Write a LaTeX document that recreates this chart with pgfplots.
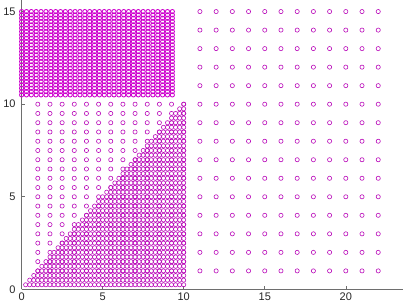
\documentclass[border=0pt]{standalone}
\usepackage{pgfplots}
\pgfplotsset{compat=1.18}
\usepackage{fontspec}
\setmainfont{Liberation Sans}
\definecolor{mag}{RGB}{185,10,185}
\definecolor{magblock}{RGB}{205,0,205}
\definecolor{axgray}{RGB}{110,110,110}
\tikzset{pts/.style={only marks, mark=o, color=mag, mark size=2.1pt, line width=0.6pt},
 blk/.style={only marks, mark=o, color=magblock, mark size=2.1pt, line width=0.85pt}}
\begin{document}
\begin{tikzpicture}
\begin{axis}[
 scale only axis, width=381pt, height=289pt,
 xmin=0, xmax=23.5, ymin=0, ymax=15.6,
 axis x line*=bottom, axis y line*=left,
 axis line style={axgray, line width=0.9pt},
 tick align=inside, major tick length=3pt,
 tick style={axgray, line width=0.6pt},
 xtick={0,5,10,15,20}, ytick={0,5,10,15},
 tick label style={font=\fontsize{11}{13}\selectfont, text=black!85},
 yticklabel style={xshift=-2.5pt},
 /pgf/number format/assume math mode=true,
 clip=false,
]
% right grid
\addplot[pts] coordinates {
(11,1)(12,1)(13,1)(14,1)(15,1)(16,1)(17,1)(18,1)(19,1)(20,1)(21,1)(22,1)
(11,2)(12,2)(13,2)(14,2)(15,2)(16,2)(17,2)(18,2)(19,2)(20,2)(21,2)(22,2)
(11,3)(12,3)(13,3)(14,3)(15,3)(16,3)(17,3)(18,3)(19,3)(20,3)(21,3)(22,3)
(11,4)(12,4)(13,4)(14,4)(15,4)(16,4)(17,4)(18,4)(19,4)(20,4)(21,4)(22,4)
(11,5)(12,5)(13,5)(14,5)(15,5)(16,5)(17,5)(18,5)(19,5)(20,5)(21,5)(22,5)
(11,6)(12,6)(13,6)(14,6)(15,6)(16,6)(17,6)(18,6)(19,6)(20,6)(21,6)(22,6)
(11,7)(12,7)(13,7)(14,7)(15,7)(16,7)(17,7)(18,7)(19,7)(20,7)(21,7)(22,7)
(11,8)(12,8)(13,8)(14,8)(15,8)(16,8)(17,8)(18,8)(19,8)(20,8)(21,8)(22,8)
(11,9)(12,9)(13,9)(14,9)(15,9)(16,9)(17,9)(18,9)(19,9)(20,9)(21,9)(22,9)
(11,10)(12,10)(13,10)(14,10)(15,10)(16,10)(17,10)(18,10)(19,10)(20,10)(21,10)(22,10)
(11,11)(12,11)(13,11)(14,11)(15,11)(16,11)(17,11)(18,11)(19,11)(20,11)(21,11)(22,11)
(11,12)(12,12)(13,12)(14,12)(15,12)(16,12)(17,12)(18,12)(19,12)(20,12)(21,12)(22,12)
(11,13)(12,13)(13,13)(14,13)(15,13)(16,13)(17,13)(18,13)(19,13)(20,13)(21,13)(22,13)
(11,14)(12,14)(13,14)(14,14)(15,14)(16,14)(17,14)(18,14)(19,14)(20,14)(21,14)(22,14)
(11,15)(12,15)(13,15)(14,15)(15,15)(16,15)(17,15)(18,15)(19,15)(20,15)(21,15)(22,15)
};
% sparse left grid
\addplot[pts] coordinates {
(1,1)(1.75,1)(2.5,1)(3.25,1)(4,1)(4.75,1)(5.5,1)(6.25,1)(7,1)(7.75,1)(8.5,1)(9.25,1)(10,1)
(1,1.5)(1.75,1.5)(2.5,1.5)(3.25,1.5)(4,1.5)(4.75,1.5)(5.5,1.5)(6.25,1.5)(7,1.5)(7.75,1.5)(8.5,1.5)(9.25,1.5)(10,1.5)
(1,2)(1.75,2)(2.5,2)(3.25,2)(4,2)(4.75,2)(5.5,2)(6.25,2)(7,2)(7.75,2)(8.5,2)(9.25,2)(10,2)
(1,2.5)(1.75,2.5)(2.5,2.5)(3.25,2.5)(4,2.5)(4.75,2.5)(5.5,2.5)(6.25,2.5)(7,2.5)(7.75,2.5)(8.5,2.5)(9.25,2.5)(10,2.5)
(1,3)(1.75,3)(2.5,3)(3.25,3)(4,3)(4.75,3)(5.5,3)(6.25,3)(7,3)(7.75,3)(8.5,3)(9.25,3)(10,3)
(1,3.5)(1.75,3.5)(2.5,3.5)(3.25,3.5)(4,3.5)(4.75,3.5)(5.5,3.5)(6.25,3.5)(7,3.5)(7.75,3.5)(8.5,3.5)(9.25,3.5)(10,3.5)
(1,4)(1.75,4)(2.5,4)(3.25,4)(4,4)(4.75,4)(5.5,4)(6.25,4)(7,4)(7.75,4)(8.5,4)(9.25,4)(10,4)
(1,4.5)(1.75,4.5)(2.5,4.5)(3.25,4.5)(4,4.5)(4.75,4.5)(5.5,4.5)(6.25,4.5)(7,4.5)(7.75,4.5)(8.5,4.5)(9.25,4.5)(10,4.5)
(1,5)(1.75,5)(2.5,5)(3.25,5)(4,5)(4.75,5)(5.5,5)(6.25,5)(7,5)(7.75,5)(8.5,5)(9.25,5)(10,5)
(1,5.5)(1.75,5.5)(2.5,5.5)(3.25,5.5)(4,5.5)(4.75,5.5)(5.5,5.5)(6.25,5.5)(7,5.5)(7.75,5.5)(8.5,5.5)(9.25,5.5)(10,5.5)
(1,6)(1.75,6)(2.5,6)(3.25,6)(4,6)(4.75,6)(5.5,6)(6.25,6)(7,6)(7.75,6)(8.5,6)(9.25,6)(10,6)
(1,6.5)(1.75,6.5)(2.5,6.5)(3.25,6.5)(4,6.5)(4.75,6.5)(5.5,6.5)(6.25,6.5)(7,6.5)(7.75,6.5)(8.5,6.5)(9.25,6.5)(10,6.5)
(1,7)(1.75,7)(2.5,7)(3.25,7)(4,7)(4.75,7)(5.5,7)(6.25,7)(7,7)(7.75,7)(8.5,7)(9.25,7)(10,7)
(1,7.5)(1.75,7.5)(2.5,7.5)(3.25,7.5)(4,7.5)(4.75,7.5)(5.5,7.5)(6.25,7.5)(7,7.5)(7.75,7.5)(8.5,7.5)(9.25,7.5)(10,7.5)
(1,8)(1.75,8)(2.5,8)(3.25,8)(4,8)(4.75,8)(5.5,8)(6.25,8)(7,8)(7.75,8)(8.5,8)(9.25,8)(10,8)
(1,8.5)(1.75,8.5)(2.5,8.5)(3.25,8.5)(4,8.5)(4.75,8.5)(5.5,8.5)(6.25,8.5)(7,8.5)(7.75,8.5)(8.5,8.5)(9.25,8.5)(10,8.5)
(1,9)(1.75,9)(2.5,9)(3.25,9)(4,9)(4.75,9)(5.5,9)(6.25,9)(7,9)(7.75,9)(8.5,9)(9.25,9)(10,9)
(1,9.5)(1.75,9.5)(2.5,9.5)(3.25,9.5)(4,9.5)(4.75,9.5)(5.5,9.5)(6.25,9.5)(7,9.5)(7.75,9.5)(8.5,9.5)(9.25,9.5)(10,9.5)
(1,10)(1.75,10)(2.5,10)(3.25,10)(4,10)(4.75,10)(5.5,10)(6.25,10)(7,10)(7.75,10)(8.5,10)(9.25,10)(10,10)
};
% dense triangle
\addplot[pts] coordinates {
(0.25,0.25)(0.5,0.25)(0.75,0.25)(1,0.25)(1.25,0.25)(1.5,0.25)(1.75,0.25)(2,0.25)(2.25,0.25)(2.5,0.25)(2.75,0.25)(3,0.25)(3.25,0.25)(3.5,0.25)(3.75,0.25)(4,0.25)(4.25,0.25)(4.5,0.25)(4.75,0.25)(5,0.25)(5.25,0.25)(5.5,0.25)(5.75,0.25)(6,0.25)(6.25,0.25)(6.5,0.25)(6.75,0.25)(7,0.25)(7.25,0.25)(7.5,0.25)(7.75,0.25)(8,0.25)(8.25,0.25)(8.5,0.25)(8.75,0.25)(9,0.25)(9.25,0.25)(9.5,0.25)(9.75,0.25)(10,0.25)
(0.5,0.5)(0.75,0.5)(1,0.5)(1.25,0.5)(1.5,0.5)(1.75,0.5)(2,0.5)(2.25,0.5)(2.5,0.5)(2.75,0.5)(3,0.5)(3.25,0.5)(3.5,0.5)(3.75,0.5)(4,0.5)(4.25,0.5)(4.5,0.5)(4.75,0.5)(5,0.5)(5.25,0.5)(5.5,0.5)(5.75,0.5)(6,0.5)(6.25,0.5)(6.5,0.5)(6.75,0.5)(7,0.5)(7.25,0.5)(7.5,0.5)(7.75,0.5)(8,0.5)(8.25,0.5)(8.5,0.5)(8.75,0.5)(9,0.5)(9.25,0.5)(9.5,0.5)(9.75,0.5)(10,0.5)
(0.75,0.75)(1,0.75)(1.25,0.75)(1.5,0.75)(1.75,0.75)(2,0.75)(2.25,0.75)(2.5,0.75)(2.75,0.75)(3,0.75)(3.25,0.75)(3.5,0.75)(3.75,0.75)(4,0.75)(4.25,0.75)(4.5,0.75)(4.75,0.75)(5,0.75)(5.25,0.75)(5.5,0.75)(5.75,0.75)(6,0.75)(6.25,0.75)(6.5,0.75)(6.75,0.75)(7,0.75)(7.25,0.75)(7.5,0.75)(7.75,0.75)(8,0.75)(8.25,0.75)(8.5,0.75)(8.75,0.75)(9,0.75)(9.25,0.75)(9.5,0.75)(9.75,0.75)(10,0.75)
(1,1)(1.25,1)(1.5,1)(1.75,1)(2,1)(2.25,1)(2.5,1)(2.75,1)(3,1)(3.25,1)(3.5,1)(3.75,1)(4,1)(4.25,1)(4.5,1)(4.75,1)(5,1)(5.25,1)(5.5,1)(5.75,1)(6,1)(6.25,1)(6.5,1)(6.75,1)(7,1)(7.25,1)(7.5,1)(7.75,1)(8,1)(8.25,1)(8.5,1)(8.75,1)(9,1)(9.25,1)(9.5,1)(9.75,1)(10,1)
(1.25,1.25)(1.5,1.25)(1.75,1.25)(2,1.25)(2.25,1.25)(2.5,1.25)(2.75,1.25)(3,1.25)(3.25,1.25)(3.5,1.25)(3.75,1.25)(4,1.25)(4.25,1.25)(4.5,1.25)(4.75,1.25)(5,1.25)(5.25,1.25)(5.5,1.25)(5.75,1.25)(6,1.25)(6.25,1.25)(6.5,1.25)(6.75,1.25)(7,1.25)(7.25,1.25)(7.5,1.25)(7.75,1.25)(8,1.25)(8.25,1.25)(8.5,1.25)(8.75,1.25)(9,1.25)(9.25,1.25)(9.5,1.25)(9.75,1.25)(10,1.25)
(1.5,1.5)(1.75,1.5)(2,1.5)(2.25,1.5)(2.5,1.5)(2.75,1.5)(3,1.5)(3.25,1.5)(3.5,1.5)(3.75,1.5)(4,1.5)(4.25,1.5)(4.5,1.5)(4.75,1.5)(5,1.5)(5.25,1.5)(5.5,1.5)(5.75,1.5)(6,1.5)(6.25,1.5)(6.5,1.5)(6.75,1.5)(7,1.5)(7.25,1.5)(7.5,1.5)(7.75,1.5)(8,1.5)(8.25,1.5)(8.5,1.5)(8.75,1.5)(9,1.5)(9.25,1.5)(9.5,1.5)(9.75,1.5)(10,1.5)
(1.75,1.75)(2,1.75)(2.25,1.75)(2.5,1.75)(2.75,1.75)(3,1.75)(3.25,1.75)(3.5,1.75)(3.75,1.75)(4,1.75)(4.25,1.75)(4.5,1.75)(4.75,1.75)(5,1.75)(5.25,1.75)(5.5,1.75)(5.75,1.75)(6,1.75)(6.25,1.75)(6.5,1.75)(6.75,1.75)(7,1.75)(7.25,1.75)(7.5,1.75)(7.75,1.75)(8,1.75)(8.25,1.75)(8.5,1.75)(8.75,1.75)(9,1.75)(9.25,1.75)(9.5,1.75)(9.75,1.75)(10,1.75)
(2,2)(2.25,2)(2.5,2)(2.75,2)(3,2)(3.25,2)(3.5,2)(3.75,2)(4,2)(4.25,2)(4.5,2)(4.75,2)(5,2)(5.25,2)(5.5,2)(5.75,2)(6,2)(6.25,2)(6.5,2)(6.75,2)(7,2)(7.25,2)(7.5,2)(7.75,2)(8,2)(8.25,2)(8.5,2)(8.75,2)(9,2)(9.25,2)(9.5,2)(9.75,2)(10,2)
(2.25,2.25)(2.5,2.25)(2.75,2.25)(3,2.25)(3.25,2.25)(3.5,2.25)(3.75,2.25)(4,2.25)(4.25,2.25)(4.5,2.25)(4.75,2.25)(5,2.25)(5.25,2.25)(5.5,2.25)(5.75,2.25)(6,2.25)(6.25,2.25)(6.5,2.25)(6.75,2.25)(7,2.25)(7.25,2.25)(7.5,2.25)(7.75,2.25)(8,2.25)(8.25,2.25)(8.5,2.25)(8.75,2.25)(9,2.25)(9.25,2.25)(9.5,2.25)(9.75,2.25)(10,2.25)
(2.5,2.5)(2.75,2.5)(3,2.5)(3.25,2.5)(3.5,2.5)(3.75,2.5)(4,2.5)(4.25,2.5)(4.5,2.5)(4.75,2.5)(5,2.5)(5.25,2.5)(5.5,2.5)(5.75,2.5)(6,2.5)(6.25,2.5)(6.5,2.5)(6.75,2.5)(7,2.5)(7.25,2.5)(7.5,2.5)(7.75,2.5)(8,2.5)(8.25,2.5)(8.5,2.5)(8.75,2.5)(9,2.5)(9.25,2.5)(9.5,2.5)(9.75,2.5)(10,2.5)
(2.75,2.75)(3,2.75)(3.25,2.75)(3.5,2.75)(3.75,2.75)(4,2.75)(4.25,2.75)(4.5,2.75)(4.75,2.75)(5,2.75)(5.25,2.75)(5.5,2.75)(5.75,2.75)(6,2.75)(6.25,2.75)(6.5,2.75)(6.75,2.75)(7,2.75)(7.25,2.75)(7.5,2.75)(7.75,2.75)(8,2.75)(8.25,2.75)(8.5,2.75)(8.75,2.75)(9,2.75)(9.25,2.75)(9.5,2.75)(9.75,2.75)(10,2.75)
(3,3)(3.25,3)(3.5,3)(3.75,3)(4,3)(4.25,3)(4.5,3)(4.75,3)(5,3)(5.25,3)(5.5,3)(5.75,3)(6,3)(6.25,3)(6.5,3)(6.75,3)(7,3)(7.25,3)(7.5,3)(7.75,3)(8,3)(8.25,3)(8.5,3)(8.75,3)(9,3)(9.25,3)(9.5,3)(9.75,3)(10,3)
(3.25,3.25)(3.5,3.25)(3.75,3.25)(4,3.25)(4.25,3.25)(4.5,3.25)(4.75,3.25)(5,3.25)(5.25,3.25)(5.5,3.25)(5.75,3.25)(6,3.25)(6.25,3.25)(6.5,3.25)(6.75,3.25)(7,3.25)(7.25,3.25)(7.5,3.25)(7.75,3.25)(8,3.25)(8.25,3.25)(8.5,3.25)(8.75,3.25)(9,3.25)(9.25,3.25)(9.5,3.25)(9.75,3.25)(10,3.25)
(3.5,3.5)(3.75,3.5)(4,3.5)(4.25,3.5)(4.5,3.5)(4.75,3.5)(5,3.5)(5.25,3.5)(5.5,3.5)(5.75,3.5)(6,3.5)(6.25,3.5)(6.5,3.5)(6.75,3.5)(7,3.5)(7.25,3.5)(7.5,3.5)(7.75,3.5)(8,3.5)(8.25,3.5)(8.5,3.5)(8.75,3.5)(9,3.5)(9.25,3.5)(9.5,3.5)(9.75,3.5)(10,3.5)
(3.75,3.75)(4,3.75)(4.25,3.75)(4.5,3.75)(4.75,3.75)(5,3.75)(5.25,3.75)(5.5,3.75)(5.75,3.75)(6,3.75)(6.25,3.75)(6.5,3.75)(6.75,3.75)(7,3.75)(7.25,3.75)(7.5,3.75)(7.75,3.75)(8,3.75)(8.25,3.75)(8.5,3.75)(8.75,3.75)(9,3.75)(9.25,3.75)(9.5,3.75)(9.75,3.75)(10,3.75)
(4,4)(4.25,4)(4.5,4)(4.75,4)(5,4)(5.25,4)(5.5,4)(5.75,4)(6,4)(6.25,4)(6.5,4)(6.75,4)(7,4)(7.25,4)(7.5,4)(7.75,4)(8,4)(8.25,4)(8.5,4)(8.75,4)(9,4)(9.25,4)(9.5,4)(9.75,4)(10,4)
(4.25,4.25)(4.5,4.25)(4.75,4.25)(5,4.25)(5.25,4.25)(5.5,4.25)(5.75,4.25)(6,4.25)(6.25,4.25)(6.5,4.25)(6.75,4.25)(7,4.25)(7.25,4.25)(7.5,4.25)(7.75,4.25)(8,4.25)(8.25,4.25)(8.5,4.25)(8.75,4.25)(9,4.25)(9.25,4.25)(9.5,4.25)(9.75,4.25)(10,4.25)
(4.5,4.5)(4.75,4.5)(5,4.5)(5.25,4.5)(5.5,4.5)(5.75,4.5)(6,4.5)(6.25,4.5)(6.5,4.5)(6.75,4.5)(7,4.5)(7.25,4.5)(7.5,4.5)(7.75,4.5)(8,4.5)(8.25,4.5)(8.5,4.5)(8.75,4.5)(9,4.5)(9.25,4.5)(9.5,4.5)(9.75,4.5)(10,4.5)
(4.75,4.75)(5,4.75)(5.25,4.75)(5.5,4.75)(5.75,4.75)(6,4.75)(6.25,4.75)(6.5,4.75)(6.75,4.75)(7,4.75)(7.25,4.75)(7.5,4.75)(7.75,4.75)(8,4.75)(8.25,4.75)(8.5,4.75)(8.75,4.75)(9,4.75)(9.25,4.75)(9.5,4.75)(9.75,4.75)(10,4.75)
(5,5)(5.25,5)(5.5,5)(5.75,5)(6,5)(6.25,5)(6.5,5)(6.75,5)(7,5)(7.25,5)(7.5,5)(7.75,5)(8,5)(8.25,5)(8.5,5)(8.75,5)(9,5)(9.25,5)(9.5,5)(9.75,5)(10,5)
(5.25,5.25)(5.5,5.25)(5.75,5.25)(6,5.25)(6.25,5.25)(6.5,5.25)(6.75,5.25)(7,5.25)(7.25,5.25)(7.5,5.25)(7.75,5.25)(8,5.25)(8.25,5.25)(8.5,5.25)(8.75,5.25)(9,5.25)(9.25,5.25)(9.5,5.25)(9.75,5.25)(10,5.25)
(5.5,5.5)(5.75,5.5)(6,5.5)(6.25,5.5)(6.5,5.5)(6.75,5.5)(7,5.5)(7.25,5.5)(7.5,5.5)(7.75,5.5)(8,5.5)(8.25,5.5)(8.5,5.5)(8.75,5.5)(9,5.5)(9.25,5.5)(9.5,5.5)(9.75,5.5)(10,5.5)
(5.75,5.75)(6,5.75)(6.25,5.75)(6.5,5.75)(6.75,5.75)(7,5.75)(7.25,5.75)(7.5,5.75)(7.75,5.75)(8,5.75)(8.25,5.75)(8.5,5.75)(8.75,5.75)(9,5.75)(9.25,5.75)(9.5,5.75)(9.75,5.75)(10,5.75)
(6,6)(6.25,6)(6.5,6)(6.75,6)(7,6)(7.25,6)(7.5,6)(7.75,6)(8,6)(8.25,6)(8.5,6)(8.75,6)(9,6)(9.25,6)(9.5,6)(9.75,6)(10,6)
(6.25,6.25)(6.5,6.25)(6.75,6.25)(7,6.25)(7.25,6.25)(7.5,6.25)(7.75,6.25)(8,6.25)(8.25,6.25)(8.5,6.25)(8.75,6.25)(9,6.25)(9.25,6.25)(9.5,6.25)(9.75,6.25)(10,6.25)
(6.5,6.5)(6.75,6.5)(7,6.5)(7.25,6.5)(7.5,6.5)(7.75,6.5)(8,6.5)(8.25,6.5)(8.5,6.5)(8.75,6.5)(9,6.5)(9.25,6.5)(9.5,6.5)(9.75,6.5)(10,6.5)
(6.75,6.75)(7,6.75)(7.25,6.75)(7.5,6.75)(7.75,6.75)(8,6.75)(8.25,6.75)(8.5,6.75)(8.75,6.75)(9,6.75)(9.25,6.75)(9.5,6.75)(9.75,6.75)(10,6.75)
(7,7)(7.25,7)(7.5,7)(7.75,7)(8,7)(8.25,7)(8.5,7)(8.75,7)(9,7)(9.25,7)(9.5,7)(9.75,7)(10,7)
(7.25,7.25)(7.5,7.25)(7.75,7.25)(8,7.25)(8.25,7.25)(8.5,7.25)(8.75,7.25)(9,7.25)(9.25,7.25)(9.5,7.25)(9.75,7.25)(10,7.25)
(7.5,7.5)(7.75,7.5)(8,7.5)(8.25,7.5)(8.5,7.5)(8.75,7.5)(9,7.5)(9.25,7.5)(9.5,7.5)(9.75,7.5)(10,7.5)
(7.75,7.75)(8,7.75)(8.25,7.75)(8.5,7.75)(8.75,7.75)(9,7.75)(9.25,7.75)(9.5,7.75)(9.75,7.75)(10,7.75)
(8,8)(8.25,8)(8.5,8)(8.75,8)(9,8)(9.25,8)(9.5,8)(9.75,8)(10,8)
(8.25,8.25)(8.5,8.25)(8.75,8.25)(9,8.25)(9.25,8.25)(9.5,8.25)(9.75,8.25)(10,8.25)
(8.5,8.5)(8.75,8.5)(9,8.5)(9.25,8.5)(9.5,8.5)(9.75,8.5)(10,8.5)
(8.75,8.75)(9,8.75)(9.25,8.75)(9.5,8.75)(9.75,8.75)(10,8.75)
(9,9)(9.25,9)(9.5,9)(9.75,9)(10,9)
(9.25,9.25)(9.5,9.25)(9.75,9.25)(10,9.25)
(9.5,9.5)(9.75,9.5)(10,9.5)
(9.75,9.75)(10,9.75)
(10,10)
};
% dense top block
\addplot[blk] coordinates {
(0,10.5)(0.3,10.5)(0.6,10.5)(0.9,10.5)(1.2,10.5)(1.5,10.5)(1.8,10.5)(2.1,10.5)(2.4,10.5)(2.7,10.5)(3,10.5)(3.3,10.5)(3.6,10.5)(3.9,10.5)(4.2,10.5)(4.5,10.5)(4.8,10.5)(5.1,10.5)(5.4,10.5)(5.7,10.5)(6,10.5)(6.3,10.5)(6.6,10.5)(6.9,10.5)(7.2,10.5)(7.5,10.5)(7.8,10.5)(8.1,10.5)(8.4,10.5)(8.7,10.5)(9,10.5)(9.3,10.5)
(0,10.68)(0.3,10.68)(0.6,10.68)(0.9,10.68)(1.2,10.68)(1.5,10.68)(1.8,10.68)(2.1,10.68)(2.4,10.68)(2.7,10.68)(3,10.68)(3.3,10.68)(3.6,10.68)(3.9,10.68)(4.2,10.68)(4.5,10.68)(4.8,10.68)(5.1,10.68)(5.4,10.68)(5.7,10.68)(6,10.68)(6.3,10.68)(6.6,10.68)(6.9,10.68)(7.2,10.68)(7.5,10.68)(7.8,10.68)(8.1,10.68)(8.4,10.68)(8.7,10.68)(9,10.68)(9.3,10.68)
(0,10.86)(0.3,10.86)(0.6,10.86)(0.9,10.86)(1.2,10.86)(1.5,10.86)(1.8,10.86)(2.1,10.86)(2.4,10.86)(2.7,10.86)(3,10.86)(3.3,10.86)(3.6,10.86)(3.9,10.86)(4.2,10.86)(4.5,10.86)(4.8,10.86)(5.1,10.86)(5.4,10.86)(5.7,10.86)(6,10.86)(6.3,10.86)(6.6,10.86)(6.9,10.86)(7.2,10.86)(7.5,10.86)(7.8,10.86)(8.1,10.86)(8.4,10.86)(8.7,10.86)(9,10.86)(9.3,10.86)
(0,11.04)(0.3,11.04)(0.6,11.04)(0.9,11.04)(1.2,11.04)(1.5,11.04)(1.8,11.04)(2.1,11.04)(2.4,11.04)(2.7,11.04)(3,11.04)(3.3,11.04)(3.6,11.04)(3.9,11.04)(4.2,11.04)(4.5,11.04)(4.8,11.04)(5.1,11.04)(5.4,11.04)(5.7,11.04)(6,11.04)(6.3,11.04)(6.6,11.04)(6.9,11.04)(7.2,11.04)(7.5,11.04)(7.8,11.04)(8.1,11.04)(8.4,11.04)(8.7,11.04)(9,11.04)(9.3,11.04)
(0,11.22)(0.3,11.22)(0.6,11.22)(0.9,11.22)(1.2,11.22)(1.5,11.22)(1.8,11.22)(2.1,11.22)(2.4,11.22)(2.7,11.22)(3,11.22)(3.3,11.22)(3.6,11.22)(3.9,11.22)(4.2,11.22)(4.5,11.22)(4.8,11.22)(5.1,11.22)(5.4,11.22)(5.7,11.22)(6,11.22)(6.3,11.22)(6.6,11.22)(6.9,11.22)(7.2,11.22)(7.5,11.22)(7.8,11.22)(8.1,11.22)(8.4,11.22)(8.7,11.22)(9,11.22)(9.3,11.22)
(0,11.4)(0.3,11.4)(0.6,11.4)(0.9,11.4)(1.2,11.4)(1.5,11.4)(1.8,11.4)(2.1,11.4)(2.4,11.4)(2.7,11.4)(3,11.4)(3.3,11.4)(3.6,11.4)(3.9,11.4)(4.2,11.4)(4.5,11.4)(4.8,11.4)(5.1,11.4)(5.4,11.4)(5.7,11.4)(6,11.4)(6.3,11.4)(6.6,11.4)(6.9,11.4)(7.2,11.4)(7.5,11.4)(7.8,11.4)(8.1,11.4)(8.4,11.4)(8.7,11.4)(9,11.4)(9.3,11.4)
(0,11.58)(0.3,11.58)(0.6,11.58)(0.9,11.58)(1.2,11.58)(1.5,11.58)(1.8,11.58)(2.1,11.58)(2.4,11.58)(2.7,11.58)(3,11.58)(3.3,11.58)(3.6,11.58)(3.9,11.58)(4.2,11.58)(4.5,11.58)(4.8,11.58)(5.1,11.58)(5.4,11.58)(5.7,11.58)(6,11.58)(6.3,11.58)(6.6,11.58)(6.9,11.58)(7.2,11.58)(7.5,11.58)(7.8,11.58)(8.1,11.58)(8.4,11.58)(8.7,11.58)(9,11.58)(9.3,11.58)
(0,11.76)(0.3,11.76)(0.6,11.76)(0.9,11.76)(1.2,11.76)(1.5,11.76)(1.8,11.76)(2.1,11.76)(2.4,11.76)(2.7,11.76)(3,11.76)(3.3,11.76)(3.6,11.76)(3.9,11.76)(4.2,11.76)(4.5,11.76)(4.8,11.76)(5.1,11.76)(5.4,11.76)(5.7,11.76)(6,11.76)(6.3,11.76)(6.6,11.76)(6.9,11.76)(7.2,11.76)(7.5,11.76)(7.8,11.76)(8.1,11.76)(8.4,11.76)(8.7,11.76)(9,11.76)(9.3,11.76)
(0,11.94)(0.3,11.94)(0.6,11.94)(0.9,11.94)(1.2,11.94)(1.5,11.94)(1.8,11.94)(2.1,11.94)(2.4,11.94)(2.7,11.94)(3,11.94)(3.3,11.94)(3.6,11.94)(3.9,11.94)(4.2,11.94)(4.5,11.94)(4.8,11.94)(5.1,11.94)(5.4,11.94)(5.7,11.94)(6,11.94)(6.3,11.94)(6.6,11.94)(6.9,11.94)(7.2,11.94)(7.5,11.94)(7.8,11.94)(8.1,11.94)(8.4,11.94)(8.7,11.94)(9,11.94)(9.3,11.94)
(0,12.12)(0.3,12.12)(0.6,12.12)(0.9,12.12)(1.2,12.12)(1.5,12.12)(1.8,12.12)(2.1,12.12)(2.4,12.12)(2.7,12.12)(3,12.12)(3.3,12.12)(3.6,12.12)(3.9,12.12)(4.2,12.12)(4.5,12.12)(4.8,12.12)(5.1,12.12)(5.4,12.12)(5.7,12.12)(6,12.12)(6.3,12.12)(6.6,12.12)(6.9,12.12)(7.2,12.12)(7.5,12.12)(7.8,12.12)(8.1,12.12)(8.4,12.12)(8.7,12.12)(9,12.12)(9.3,12.12)
(0,12.3)(0.3,12.3)(0.6,12.3)(0.9,12.3)(1.2,12.3)(1.5,12.3)(1.8,12.3)(2.1,12.3)(2.4,12.3)(2.7,12.3)(3,12.3)(3.3,12.3)(3.6,12.3)(3.9,12.3)(4.2,12.3)(4.5,12.3)(4.8,12.3)(5.1,12.3)(5.4,12.3)(5.7,12.3)(6,12.3)(6.3,12.3)(6.6,12.3)(6.9,12.3)(7.2,12.3)(7.5,12.3)(7.8,12.3)(8.1,12.3)(8.4,12.3)(8.7,12.3)(9,12.3)(9.3,12.3)
(0,12.48)(0.3,12.48)(0.6,12.48)(0.9,12.48)(1.2,12.48)(1.5,12.48)(1.8,12.48)(2.1,12.48)(2.4,12.48)(2.7,12.48)(3,12.48)(3.3,12.48)(3.6,12.48)(3.9,12.48)(4.2,12.48)(4.5,12.48)(4.8,12.48)(5.1,12.48)(5.4,12.48)(5.7,12.48)(6,12.48)(6.3,12.48)(6.6,12.48)(6.9,12.48)(7.2,12.48)(7.5,12.48)(7.8,12.48)(8.1,12.48)(8.4,12.48)(8.7,12.48)(9,12.48)(9.3,12.48)
(0,12.66)(0.3,12.66)(0.6,12.66)(0.9,12.66)(1.2,12.66)(1.5,12.66)(1.8,12.66)(2.1,12.66)(2.4,12.66)(2.7,12.66)(3,12.66)(3.3,12.66)(3.6,12.66)(3.9,12.66)(4.2,12.66)(4.5,12.66)(4.8,12.66)(5.1,12.66)(5.4,12.66)(5.7,12.66)(6,12.66)(6.3,12.66)(6.6,12.66)(6.9,12.66)(7.2,12.66)(7.5,12.66)(7.8,12.66)(8.1,12.66)(8.4,12.66)(8.7,12.66)(9,12.66)(9.3,12.66)
(0,12.84)(0.3,12.84)(0.6,12.84)(0.9,12.84)(1.2,12.84)(1.5,12.84)(1.8,12.84)(2.1,12.84)(2.4,12.84)(2.7,12.84)(3,12.84)(3.3,12.84)(3.6,12.84)(3.9,12.84)(4.2,12.84)(4.5,12.84)(4.8,12.84)(5.1,12.84)(5.4,12.84)(5.7,12.84)(6,12.84)(6.3,12.84)(6.6,12.84)(6.9,12.84)(7.2,12.84)(7.5,12.84)(7.8,12.84)(8.1,12.84)(8.4,12.84)(8.7,12.84)(9,12.84)(9.3,12.84)
(0,13.02)(0.3,13.02)(0.6,13.02)(0.9,13.02)(1.2,13.02)(1.5,13.02)(1.8,13.02)(2.1,13.02)(2.4,13.02)(2.7,13.02)(3,13.02)(3.3,13.02)(3.6,13.02)(3.9,13.02)(4.2,13.02)(4.5,13.02)(4.8,13.02)(5.1,13.02)(5.4,13.02)(5.7,13.02)(6,13.02)(6.3,13.02)(6.6,13.02)(6.9,13.02)(7.2,13.02)(7.5,13.02)(7.8,13.02)(8.1,13.02)(8.4,13.02)(8.7,13.02)(9,13.02)(9.3,13.02)
(0,13.2)(0.3,13.2)(0.6,13.2)(0.9,13.2)(1.2,13.2)(1.5,13.2)(1.8,13.2)(2.1,13.2)(2.4,13.2)(2.7,13.2)(3,13.2)(3.3,13.2)(3.6,13.2)(3.9,13.2)(4.2,13.2)(4.5,13.2)(4.8,13.2)(5.1,13.2)(5.4,13.2)(5.7,13.2)(6,13.2)(6.3,13.2)(6.6,13.2)(6.9,13.2)(7.2,13.2)(7.5,13.2)(7.8,13.2)(8.1,13.2)(8.4,13.2)(8.7,13.2)(9,13.2)(9.3,13.2)
(0,13.38)(0.3,13.38)(0.6,13.38)(0.9,13.38)(1.2,13.38)(1.5,13.38)(1.8,13.38)(2.1,13.38)(2.4,13.38)(2.7,13.38)(3,13.38)(3.3,13.38)(3.6,13.38)(3.9,13.38)(4.2,13.38)(4.5,13.38)(4.8,13.38)(5.1,13.38)(5.4,13.38)(5.7,13.38)(6,13.38)(6.3,13.38)(6.6,13.38)(6.9,13.38)(7.2,13.38)(7.5,13.38)(7.8,13.38)(8.1,13.38)(8.4,13.38)(8.7,13.38)(9,13.38)(9.3,13.38)
(0,13.56)(0.3,13.56)(0.6,13.56)(0.9,13.56)(1.2,13.56)(1.5,13.56)(1.8,13.56)(2.1,13.56)(2.4,13.56)(2.7,13.56)(3,13.56)(3.3,13.56)(3.6,13.56)(3.9,13.56)(4.2,13.56)(4.5,13.56)(4.8,13.56)(5.1,13.56)(5.4,13.56)(5.7,13.56)(6,13.56)(6.3,13.56)(6.6,13.56)(6.9,13.56)(7.2,13.56)(7.5,13.56)(7.8,13.56)(8.1,13.56)(8.4,13.56)(8.7,13.56)(9,13.56)(9.3,13.56)
(0,13.74)(0.3,13.74)(0.6,13.74)(0.9,13.74)(1.2,13.74)(1.5,13.74)(1.8,13.74)(2.1,13.74)(2.4,13.74)(2.7,13.74)(3,13.74)(3.3,13.74)(3.6,13.74)(3.9,13.74)(4.2,13.74)(4.5,13.74)(4.8,13.74)(5.1,13.74)(5.4,13.74)(5.7,13.74)(6,13.74)(6.3,13.74)(6.6,13.74)(6.9,13.74)(7.2,13.74)(7.5,13.74)(7.8,13.74)(8.1,13.74)(8.4,13.74)(8.7,13.74)(9,13.74)(9.3,13.74)
(0,13.92)(0.3,13.92)(0.6,13.92)(0.9,13.92)(1.2,13.92)(1.5,13.92)(1.8,13.92)(2.1,13.92)(2.4,13.92)(2.7,13.92)(3,13.92)(3.3,13.92)(3.6,13.92)(3.9,13.92)(4.2,13.92)(4.5,13.92)(4.8,13.92)(5.1,13.92)(5.4,13.92)(5.7,13.92)(6,13.92)(6.3,13.92)(6.6,13.92)(6.9,13.92)(7.2,13.92)(7.5,13.92)(7.8,13.92)(8.1,13.92)(8.4,13.92)(8.7,13.92)(9,13.92)(9.3,13.92)
(0,14.1)(0.3,14.1)(0.6,14.1)(0.9,14.1)(1.2,14.1)(1.5,14.1)(1.8,14.1)(2.1,14.1)(2.4,14.1)(2.7,14.1)(3,14.1)(3.3,14.1)(3.6,14.1)(3.9,14.1)(4.2,14.1)(4.5,14.1)(4.8,14.1)(5.1,14.1)(5.4,14.1)(5.7,14.1)(6,14.1)(6.3,14.1)(6.6,14.1)(6.9,14.1)(7.2,14.1)(7.5,14.1)(7.8,14.1)(8.1,14.1)(8.4,14.1)(8.7,14.1)(9,14.1)(9.3,14.1)
(0,14.28)(0.3,14.28)(0.6,14.28)(0.9,14.28)(1.2,14.28)(1.5,14.28)(1.8,14.28)(2.1,14.28)(2.4,14.28)(2.7,14.28)(3,14.28)(3.3,14.28)(3.6,14.28)(3.9,14.28)(4.2,14.28)(4.5,14.28)(4.8,14.28)(5.1,14.28)(5.4,14.28)(5.7,14.28)(6,14.28)(6.3,14.28)(6.6,14.28)(6.9,14.28)(7.2,14.28)(7.5,14.28)(7.8,14.28)(8.1,14.28)(8.4,14.28)(8.7,14.28)(9,14.28)(9.3,14.28)
(0,14.46)(0.3,14.46)(0.6,14.46)(0.9,14.46)(1.2,14.46)(1.5,14.46)(1.8,14.46)(2.1,14.46)(2.4,14.46)(2.7,14.46)(3,14.46)(3.3,14.46)(3.6,14.46)(3.9,14.46)(4.2,14.46)(4.5,14.46)(4.8,14.46)(5.1,14.46)(5.4,14.46)(5.7,14.46)(6,14.46)(6.3,14.46)(6.6,14.46)(6.9,14.46)(7.2,14.46)(7.5,14.46)(7.8,14.46)(8.1,14.46)(8.4,14.46)(8.7,14.46)(9,14.46)(9.3,14.46)
(0,14.64)(0.3,14.64)(0.6,14.64)(0.9,14.64)(1.2,14.64)(1.5,14.64)(1.8,14.64)(2.1,14.64)(2.4,14.64)(2.7,14.64)(3,14.64)(3.3,14.64)(3.6,14.64)(3.9,14.64)(4.2,14.64)(4.5,14.64)(4.8,14.64)(5.1,14.64)(5.4,14.64)(5.7,14.64)(6,14.64)(6.3,14.64)(6.6,14.64)(6.9,14.64)(7.2,14.64)(7.5,14.64)(7.8,14.64)(8.1,14.64)(8.4,14.64)(8.7,14.64)(9,14.64)(9.3,14.64)
(0,14.82)(0.3,14.82)(0.6,14.82)(0.9,14.82)(1.2,14.82)(1.5,14.82)(1.8,14.82)(2.1,14.82)(2.4,14.82)(2.7,14.82)(3,14.82)(3.3,14.82)(3.6,14.82)(3.9,14.82)(4.2,14.82)(4.5,14.82)(4.8,14.82)(5.1,14.82)(5.4,14.82)(5.7,14.82)(6,14.82)(6.3,14.82)(6.6,14.82)(6.9,14.82)(7.2,14.82)(7.5,14.82)(7.8,14.82)(8.1,14.82)(8.4,14.82)(8.7,14.82)(9,14.82)(9.3,14.82)
(0,15)(0.3,15)(0.6,15)(0.9,15)(1.2,15)(1.5,15)(1.8,15)(2.1,15)(2.4,15)(2.7,15)(3,15)(3.3,15)(3.6,15)(3.9,15)(4.2,15)(4.5,15)(4.8,15)(5.1,15)(5.4,15)(5.7,15)(6,15)(6.3,15)(6.6,15)(6.9,15)(7.2,15)(7.5,15)(7.8,15)(8.1,15)(8.4,15)(8.7,15)(9,15)(9.3,15)
};
\end{axis}
\end{tikzpicture}
\end{document}
